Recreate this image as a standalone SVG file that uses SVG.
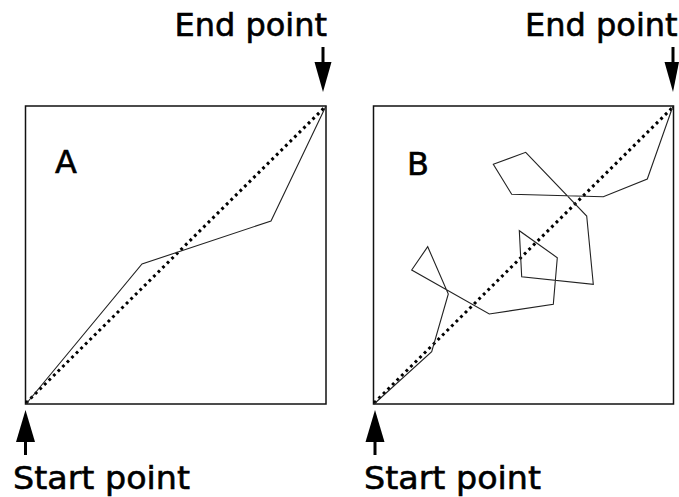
<svg xmlns="http://www.w3.org/2000/svg" width="679" height="497" viewBox="0 0 679 497">
<style>
.lbl{font-family:"DejaVu Sans",sans-serif;font-size:32px;fill:#000;stroke:#000;stroke-width:0.6}
.box{fill:none;stroke:#111;stroke-width:1.5}
.path{fill:none;stroke:#222;stroke-width:1.1;stroke-linejoin:miter}
.diag{fill:none;stroke:#000;stroke-width:3;stroke-dasharray:2.8 3.6}
.stem{stroke:#000;stroke-width:3}
.head{fill:#000}
</style>
<g id="panelA">
<rect class="box" x="25.5" y="106" width="300.5" height="298"/>
<text class="lbl" x="55" y="173">A</text>
</g>
<g id="panelB">
<rect class="box" x="373.5" y="106" width="300" height="298"/>
<text class="lbl" x="407" y="175">B</text>
</g>
<g id="endA">
<text class="lbl" x="327" y="36" text-anchor="end">End point</text>
</g>
<g id="endB">
<text class="lbl" x="525" y="36">End point</text>
</g>
<g id="startA">
<text class="lbl" x="13" y="489" textLength="177" lengthAdjust="spacingAndGlyphs">Start point</text>
</g>
<g id="startB">
<text class="lbl" x="364" y="489" textLength="177" lengthAdjust="spacingAndGlyphs">Start point</text>
</g>
<g id="connectors">
<line class="diag" x1="26" y1="403" x2="325" y2="107"/>
<polyline class="path" points="26,404 142,264 271,221 326,106"/>
<line class="diag" x1="374" y1="403" x2="673" y2="107"/>
<polyline class="path" points="374,404 431.7,351.7 448.3,294 427.7,246.7 411.7,270 489.3,314 553.3,304.3 557.3,257.7 519.3,230.7 521.7,276.7 593.3,284.3 586.7,216 525.7,152.3 493.3,164.3 511.7,194.3 603.3,196.7 647.3,179 673,106"/>
<line class="stem" x1="323" y1="47" x2="323" y2="66"/>
<polygon class="head" points="314.5,62 331.5,62 323,92"/>
<line class="stem" x1="673" y1="47" x2="673" y2="66"/>
<polygon class="head" points="664.5,62 679,62 673,92"/>
<line class="stem" x1="25.5" y1="438" x2="25.5" y2="455"/>
<polygon class="head" points="16,442 35,442 25.5,410"/>
<line class="stem" x1="375" y1="438" x2="375" y2="455"/>
<polygon class="head" points="365.5,442 384.5,442 375,410"/>
</g>
</svg>
